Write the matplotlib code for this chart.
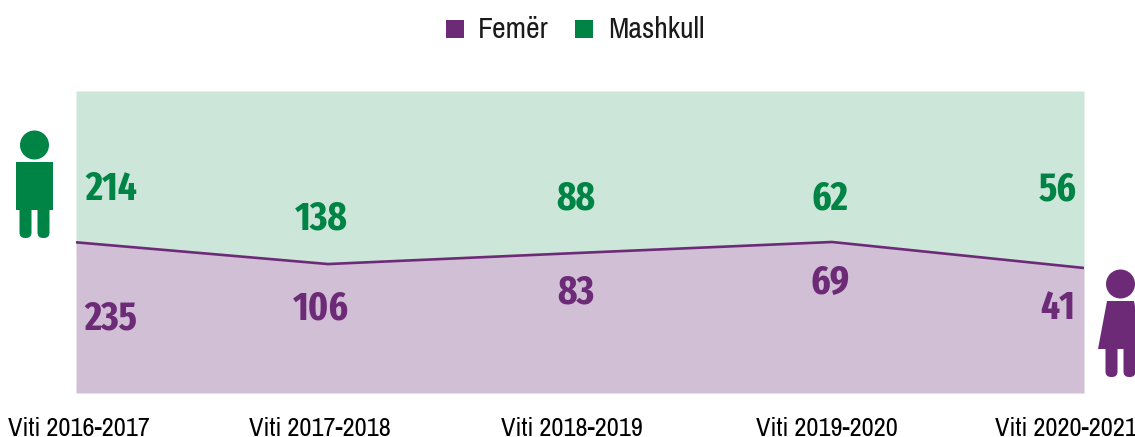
# plot.py
# Share of women / men per school year, area chart with person icons
import matplotlib
matplotlib.use('Agg')
import matplotlib.pyplot as plt
from matplotlib.patches import Circle, Rectangle, Polygon, FancyBboxPatch

matplotlib.rcParams['font.family'] = ['Archivo Narrow', 'Roboto Condensed', 'Liberation Sans', 'DejaVu Sans']
NUM_FONT = ['Fira Sans Extra Condensed', 'Roboto Condensed', 'Liberation Sans', 'DejaVu Sans']

years = ['Viti 2016-2017', 'Viti 2017-2018', 'Viti 2018-2019', 'Viti 2019-2020', 'Viti 2020-2021']
femer = [235, 106, 83, 69, 41]
mashkull = [214, 138, 88, 62, 56]
# height of the purple area in the picture, percent of the band
femer_share = [49.9, 42.7, 46.4, 50.0, 41.4]

PURPLE = '#6d2b77'
GREEN = '#008445'
PURPLE_BG = '#d1bfd6'
GREEN_BG = '#cde6da'
W, H = 1135, 437

fig = plt.figure(figsize=(W / 100, H / 100), dpi=100)
fig.patch.set_facecolor('white')

# plot band
ax = fig.add_axes([76 / W, 1 - 393 / H, (1084 - 76) / W, (393 - 91) / H])
x = range(len(years))
ax.fill_between(x, 0, femer_share, color=PURPLE_BG, linewidth=0)
ax.fill_between(x, femer_share, 100, color=GREEN_BG, linewidth=0)
ax.plot(x, femer_share, color=PURPLE, linewidth=1.9, solid_capstyle='butt')
ax.set_xlim(0, len(years) - 1)
ax.set_ylim(0, 100)
ax.axis('off')

# overlay in pixel coordinates for labels and icons
ov = fig.add_axes([0, 0, 1, 1])
ov.set_xlim(0, W)
ov.set_ylim(H, 0)
ov.axis('off')
ov.patch.set_alpha(0)

label_x = [111, 321, 576, 830, 1058]
male_y = [185, 214, 194, 194, 185]
female_y = [314, 304, 288, 279, 304]
tick_x = [79, 320, 572, 827, 1066]

for i in x:
    ov.text(label_x[i], male_y[i], str(mashkull[i]), color=GREEN, fontsize=29,
            family=NUM_FONT, fontweight='bold', ha='center', va='center_baseline')
    ov.text(label_x[i], female_y[i], str(femer[i]), color=PURPLE, fontsize=29,
            family=NUM_FONT, fontweight='bold', ha='center', va='center_baseline')
    ov.text(tick_x[i], 426, years[i], color='black', fontsize=19,
            ha='center', va='center_baseline')


def legs(cx, top, bottom, color):
    for lx in (cx - 15, cx + 3):
        ov.add_patch(FancyBboxPatch((lx + 5.5, top), 1, bottom - top - 5.5,
                                    boxstyle='round,pad=5.5,rounding_size=5.5',
                                    color=color, linewidth=0))


# male icon
ov.add_patch(Circle((34.5, 145), 14.5, color=GREEN, linewidth=0))
ov.add_patch(Rectangle((16, 162), 37, 48, color=GREEN, linewidth=0))
legs(34.5, 205, 238, GREEN)

# female icon
ov.add_patch(Circle((1120.5, 284), 14.5, color=PURPLE, linewidth=0))
ov.add_patch(Polygon([(1107, 301), (1134, 301), (1143, 349), (1098, 349)], color=PURPLE, linewidth=0))
legs(1120.5, 345, 377, PURPLE)

# legend
ov.add_patch(Rectangle((446, 20), 18, 18, color=PURPLE, linewidth=0))
ov.add_patch(Rectangle((575, 20), 18, 18, color=GREEN, linewidth=0))
ov.text(478, 27, 'Femër', color='#1a1a1a', fontsize=21.5, ha='left', va='center_baseline')
ov.text(608, 27, 'Mashkull', color='#1a1a1a', fontsize=21.5, ha='left', va='center_baseline')

fig.savefig('out.png', dpi=100)
plt.close(fig)
